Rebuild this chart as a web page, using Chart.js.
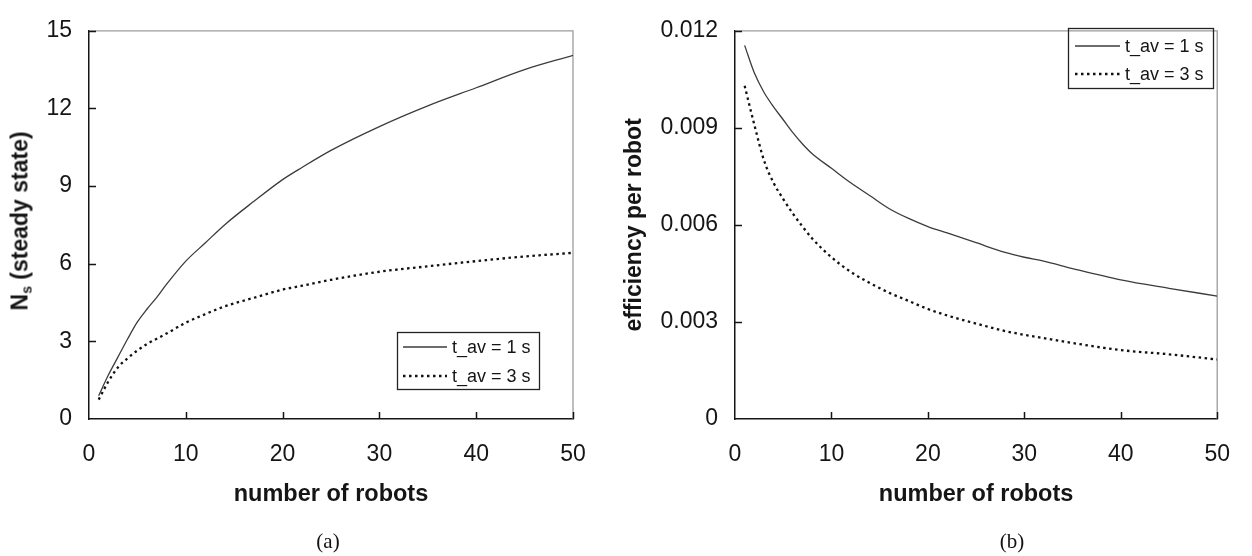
<!DOCTYPE html>
<html><head><meta charset="utf-8">
<script src="https://cdn.jsdelivr.net/npm/chart.js@4.4.1/dist/chart.umd.min.js"></script>
<style>
html,body{margin:0;padding:0;background:#fff;width:1252px;height:556px;overflow:hidden}
.wrap{position:absolute;top:0;height:556px}
.cap{position:absolute;font-family:"Liberation Serif","Times New Roman",serif;font-size:21px;line-height:24px;color:#111;transform:translateX(-50%)}
.ytitle{position:absolute;white-space:nowrap;font-family:"Liberation Sans",Arial,sans-serif;font-weight:bold;font-size:23px;line-height:26px;color:#151515;transform:translate(-50%,-50%) rotate(-90deg)}
.ytitle .sub{font-size:14px;position:relative;top:4px}
</style></head><body>
<div class="wrap" style="left:0;width:626px"><canvas id="ca" width="626" height="556"></canvas></div>
<div class="wrap" style="left:610px;width:642px"><canvas id="cb" width="642" height="556"></canvas></div>
<div class="ytitle" style="left:21px;top:221px">N<span class="sub">s</span> (steady state)</div>
<div class="cap" style="left:328px;top:529px">(a)</div>
<div class="cap" style="left:1012px;top:529px">(b)</div>
<script>
// ---- data ----
const seriesLabels = ['t_av = 1 s', 't_av = 3 s'];
const xTicks = [0, 10, 20, 30, 40, 50];
const yTicksA = [0, 3, 6, 9, 12, 15];
const yTicksB = [0, 0.003, 0.006, 0.009, 0.012];

const robotsA = [1, 2, 3, 4, 5, 6, 7, 8, 10, 12, 14, 17, 20, 22, 25, 30, 35, 40, 45, 50];
const nsFast  = [0.9, 1.7, 2.4, 3.1, 3.75, 4.25, 4.7, 5.2, 6.1, 6.8, 7.5, 8.4, 9.25, 9.72, 10.38, 11.3, 12.1, 12.8, 13.5, 14.05];
const nsSlow  = [0.75, 1.45, 2.0, 2.35, 2.65, 2.9, 3.1, 3.3, 3.72, 4.05, 4.35, 4.68, 5.0, 5.15, 5.38, 5.69, 5.9, 6.1, 6.28, 6.42];

const robotsB = [1, 2, 3, 4, 5, 6, 7, 8, 10, 12, 14, 16, 18, 20, 22, 25, 28, 30, 32, 35, 40, 45, 50];
const effFast = [0.01155, 0.0107, 0.0101, 0.00965, 0.00925, 0.00885, 0.0085, 0.0082, 0.00775, 0.0073, 0.0069, 0.0065, 0.0062, 0.00595, 0.00575, 0.00545, 0.00515, 0.0050, 0.00488, 0.00465, 0.0043, 0.00404, 0.0038];
const effSlow = [0.0103, 0.0091, 0.0080, 0.0073, 0.0068, 0.00635, 0.00595, 0.00558, 0.0050, 0.00455, 0.0042, 0.0039, 0.00365, 0.0034, 0.0032, 0.00295, 0.00272, 0.0026, 0.0025, 0.00235, 0.00213, 0.0020, 0.00184];

// ---- styling ----
const FONT = '"Liberation Sans", Arial, Helvetica, sans-serif';
const INK = '#151515';

const decor = {
  id: 'decor',
  beforeDatasetsDraw(chart) {
    const {ctx, chartArea: a} = chart;
    ctx.save();
    ctx.strokeStyle = '#9c9c9c'; ctx.lineWidth = 1.3;
    ctx.beginPath(); ctx.moveTo(a.left, a.top); ctx.lineTo(a.right, a.top); ctx.lineTo(a.right, a.bottom); ctx.stroke();
    ctx.restore();
  },
  afterDraw(chart, args, o) {
    const {ctx, chartArea: a, scales} = chart;
    ctx.save();
    ctx.strokeStyle = INK; ctx.lineWidth = 1.5;
    scales.x.ticks.forEach(t => {
      if (t.value === scales.x.min) return;
      const px = Math.round(scales.x.getPixelForValue(t.value)) + 0.5;
      ctx.beginPath(); ctx.moveTo(px, a.bottom); ctx.lineTo(px, a.bottom - 7); ctx.stroke();
    });
    scales.y.ticks.forEach(t => {
      if (t.value === scales.y.min) return;
      const py = Math.round(scales.y.getPixelForValue(t.value)) + 0.5;
      ctx.beginPath(); ctx.moveTo(a.left, py); ctx.lineTo(a.left + 7, py); ctx.stroke();
    });
    // legend box
    const L = o.legend;
    ctx.strokeStyle = '#222'; ctx.lineWidth = 1.3;
    ctx.strokeRect(L.x + 0.5, L.y + 0.5, L.w, L.h);
    ctx.font = L.size + 'px ' + FONT;
    ctx.textBaseline = 'middle';
    chart.data.datasets.forEach((ds, i) => {
      const ry = L.y + L.rows[i];
      ctx.save();
      ctx.strokeStyle = ds.borderColor; ctx.lineWidth = ds.borderWidth;
      ctx.setLineDash(ds.borderDash || []);
      ctx.beginPath(); ctx.moveTo(L.x + L.s0, ry); ctx.lineTo(L.x + L.s1, ry); ctx.stroke();
      ctx.restore();
      ctx.fillStyle = INK;
      ctx.fillText(ds.label, L.x + L.tx, ry + 1);
    });
    ctx.restore();
  }
};

function ticksFrom(arr) {
  return function (scale) { scale.ticks = arr.map(v => ({value: v})); };
}

function makeChart(id, xs, s1, s2, yTicks, yMax, area, canvasW, yFmt, yTitle, legend) {
  const mk = (arr) => xs.map((x, i) => ({x: x, y: arr[i]}));
  return new Chart(document.getElementById(id), {
    type: 'line',
    data: {
      datasets: [
        {label: seriesLabels[0], data: mk(s1), borderColor: '#3c3c3c', borderWidth: 1.3, pointRadius: 0, fill: false, cubicInterpolationMode: 'monotone'},
        {label: seriesLabels[1], data: mk(s2), borderColor: '#111', borderWidth: 2.3, borderDash: [2.5, 3.5], pointRadius: 0, fill: false, cubicInterpolationMode: 'monotone'}
      ]
    },
    options: {
      responsive: false,
      animation: false,
      events: [],
      layout: {padding: {left: 0, top: area.top, right: canvasW - area.right, bottom: 47}},
      plugins: {
        legend: {display: false},
        tooltip: {enabled: false},
        decor: {legend: legend}
      },
      scales: {
        x: {
          type: 'linear', min: 0, max: 50,
          afterBuildTicks: ticksFrom(xTicks),
          afterFit: (s) => { s.height = 556 - 47 - area.bottom; },
          grid: {display: false, drawTicks: false},
          border: {display: true, color: INK, width: 1.5},
          ticks: {padding: 22, color: INK, font: {family: FONT, size: 23}, maxRotation: 0},
          title: {display: true, text: 'number of robots', color: INK, font: {family: FONT, size: 23.5, weight: 'bold'}, padding: 0}
        },
        y: {
          type: 'linear', min: 0, max: yMax,
          afterBuildTicks: ticksFrom(yTicks),
          afterFit: (s) => { s.width = area.left; },
          grid: {display: false, drawTicks: false},
          border: {display: true, color: INK, width: 1.5},
          ticks: {padding: 17, color: INK, font: {family: FONT, size: 23}, callback: yFmt},
          title: yTitle ? {display: true, text: yTitle, color: INK, font: {family: FONT, size: 23, weight: 'bold'}, padding: {top: 11, bottom: 0}} : {display: false}
        }
      }
    },
    plugins: [decor]
  });
}

makeChart('ca', robotsA, nsFast, nsSlow, yTicksA, 15,
  {left: 89, top: 22, right: 573, bottom: 419}, 626,
  (v) => String(v), null,
  {x: 397, y: 332, w: 142, h: 57, rows: [15, 44], s0: 6, s1: 50, tx: 55, size: 18});

makeChart('cb', robotsB, effFast, effSlow, yTicksB, 0.012,
  {left: 125, top: 13, right: 620, bottom: 419}, 642,
  (v) => (v === 0 ? '0' : v.toFixed(3)), 'efficiency per robot',
  {x: 458, y: 28, w: 145, h: 60, rows: [18, 46], s0: 7, s1: 52, tx: 57, size: 18});
</script>
</body></html>
